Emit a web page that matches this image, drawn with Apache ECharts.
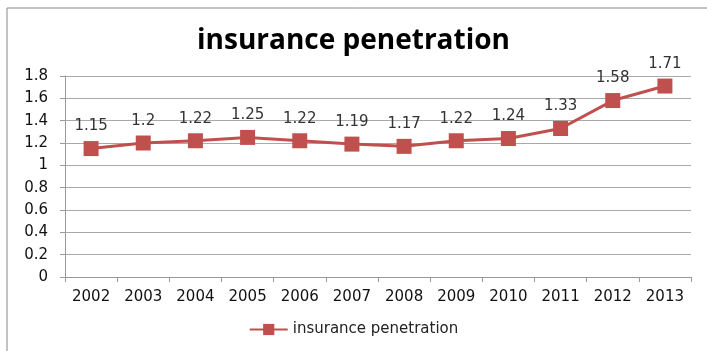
<!DOCTYPE html>
<html>
<head>
<meta charset="utf-8">
<script src="https://cdn.jsdelivr.net/npm/echarts@6/dist/echarts.min.js"></script>
<style>
  html, body { margin: 0; padding: 0; background: #fff; }
  #main { width: 707px; height: 351px; }
</style>
</head>
<body>
<div id="main"></div>
<script>
const years = ['2002', '2003', '2004', '2005', '2006', '2007', '2008', '2009', '2010', '2011', '2012', '2013'];
const penetration = [1.15, 1.2, 1.22, 1.25, 1.22, 1.19, 1.17, 1.22, 1.24, 1.33, 1.58, 1.71];
const seriesName = 'insurance penetration';

const chart = echarts.init(document.getElementById('main'));
const font = '"DejaVu Sans", Verdana, sans-serif';

chart.setOption({
    animation: false,
    textStyle: { fontFamily: font },
    title: {
        text: 'insurance penetration',
        left: 'center',
        top: 22,
        textStyle: { fontSize: 28, fontWeight: 'bold', color: '#000', fontFamily: '"Open Sans", sans-serif' }
    },
    graphic: [{
        type: 'rect',
        shape: { x: 7, y: 8, width: 720, height: 360 },
        style: { fill: 'none', stroke: '#888', lineWidth: 1 },
        silent: true
    }],
    grid: { left: 65, right: 16, top: 76, bottom: 74 },
    legend: {
        bottom: 9,
        left: 'center',
        itemWidth: 38,
        itemHeight: 14,
        itemGap: 4,
        textStyle: { fontSize: 15, color: '#222' },
        data: [seriesName]
    },
    xAxis: {
        type: 'category',
        data: years,
        boundaryGap: true,
        axisLine: { lineStyle: { color: '#999' } },
        axisTick: { show: true, length: 5, lineStyle: { color: '#999' } },
        axisLabel: { fontSize: 15, color: '#111', margin: 13 }
    },
    yAxis: {
        type: 'value',
        min: 0,
        max: 1.8,
        interval: 0.2,
        axisLine: { show: true, lineStyle: { color: '#999' } },
        axisTick: { show: true, length: 5, lineStyle: { color: '#999' } },
        splitLine: { lineStyle: { color: '#aaa' } },
        axisLabel: { fontSize: 15, color: '#111', margin: 17 }
    },
    series: [{
        name: seriesName,
        type: 'line',
        data: penetration,
        symbol: 'rect',
        symbolSize: 15,
        itemStyle: { color: '#C0504D' },
        lineStyle: { color: '#C0504D', width: 3 },
        label: {
            show: true,
            position: 'top',
            distance: 7,
            fontSize: 15,
            color: '#333'
        }
    }]
});
</script>
</body>
</html>
